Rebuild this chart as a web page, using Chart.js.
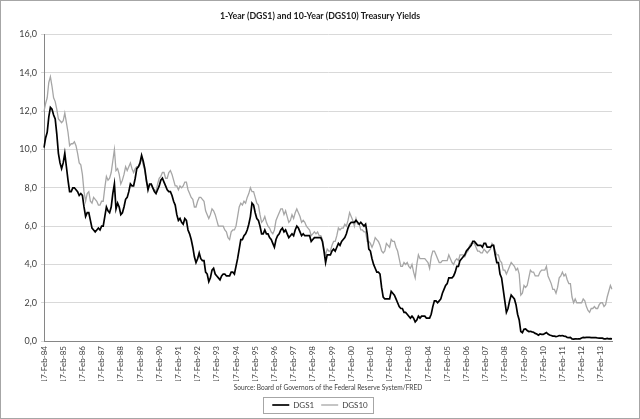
<!DOCTYPE html>
<html>
<head>
    <title>Treasury Yields</title>
    <script src="https://cdn.jsdelivr.net/npm/chart.js"></script>
    <style>
        body { margin: 0; background: #fff; }
        #wrap { width: 640px; height: 419px; }
    </style>
</head>
<body>
    <div id="wrap"><canvas id="chart"></canvas></div>
    <script>
        // monthly readings, 17-Feb-84 .. Sep-13
        const monthNames = ['Jan', 'Feb', 'Mar', 'Apr', 'May', 'Jun', 'Jul', 'Aug', 'Sep', 'Oct', 'Nov', 'Dec'];
        const startYear = 1984, startMonth = 1;   // Feb 1984
        const endYear = 2013, endMonth = 8;       // Sep 2013
        const tickMonth = 1;                      // year ticks sit on February
        const yTicks = [0, 2, 4, 6, 8, 10, 12, 14, 16];

        const dgs1 = [
            10.1, 10.6, 10.9, 11.7, 12.2, 12.1, 11.8, 11.6, 10.8, 9.8, 9.3,        // 1984
            9.0, 9.3, 9.8, 9.1, 8.4, 7.8, 7.8, 8.0, 8.0, 7.9, 7.8, 7.6,            // 1985
            7.7, 7.6, 7.0, 6.5, 6.7, 6.7, 6.3, 5.9, 5.8, 5.7, 5.8, 5.9,            // 1986
            5.8, 6.0, 6.0, 6.5, 7.0, 6.8, 6.7, 7.0, 7.7, 8.2, 6.9, 7.2,            // 1987
            7.0, 6.6, 6.7, 7.0, 7.4, 7.5, 7.8, 8.2, 8.1, 8.1, 8.5, 9.0,            // 1988
            9.1, 9.3, 9.7, 9.4, 9.0, 8.4, 7.9, 8.2, 8.2, 8.0, 7.8, 7.7,            // 1989
            7.9, 8.1, 8.4, 8.5, 8.3, 8.1, 7.9, 7.8, 7.8, 7.6, 7.3, 7.1,            // 1990
            6.6, 6.3, 6.4, 6.2, 6.1, 6.4, 6.3, 5.8, 5.6, 5.3, 4.9, 4.4,            // 1991
            4.1, 4.3, 4.6, 4.3, 4.2, 4.2, 3.6, 3.5, 3.1, 3.3, 3.7, 3.8,            // 1992
            3.5, 3.4, 3.3, 3.2, 3.4, 3.5, 3.5, 3.4, 3.4, 3.4, 3.6, 3.6,            // 1993
            3.5, 3.9, 4.3, 4.8, 5.3, 5.3, 5.5, 5.6, 5.8, 6.1, 6.5, 7.2,            // 1994
            7.1, 6.7, 6.4, 6.3, 6.0, 5.6, 5.6, 5.8, 5.6, 5.6, 5.4, 5.3,            // 1995
            5.1, 4.9, 5.3, 5.5, 5.6, 5.8, 5.9, 5.7, 5.8, 5.6, 5.4, 5.5,            // 1996
            5.6, 5.5, 5.8, 6.0, 5.9, 5.7, 5.5, 5.6, 5.5, 5.5, 5.5, 5.5,            // 1997
            5.2, 5.3, 5.4, 5.4, 5.4, 5.4, 5.4, 5.2, 4.7, 4.1, 4.5, 4.5,            // 1998
            4.5, 4.7, 4.8, 4.7, 4.9, 5.1, 5.0, 5.2, 5.3, 5.4, 5.6, 5.9,            // 1999
            6.1, 6.2, 6.2, 6.2, 6.3, 6.2, 6.1, 6.2, 6.1, 6.0, 6.1, 5.6,            // 2000
            4.8, 4.7, 4.3, 4.0, 3.8, 3.6, 3.6, 3.5, 2.8, 2.3, 2.2, 2.2,            // 2001
            2.2, 2.2, 2.6, 2.5, 2.4, 2.2, 2.0, 1.8, 1.7, 1.7, 1.5, 1.5,            // 2002
            1.4, 1.3, 1.2, 1.3, 1.2, 1.0, 1.1, 1.3, 1.2, 1.3, 1.3, 1.3,            // 2003
            1.2, 1.2, 1.2, 1.4, 1.8, 2.1, 2.1, 2.0, 2.1, 2.2, 2.5, 2.7,            // 2004
            2.9, 3.0, 3.3, 3.3, 3.3, 3.4, 3.6, 3.9, 3.9, 4.2, 4.3, 4.4,            // 2005
            4.5, 4.7, 4.8, 4.9, 5.0, 5.2, 5.2, 5.1, 5.0, 5.0, 5.0, 4.9,            // 2006
            5.1, 5.1, 4.9, 4.9, 4.9, 5.0, 5.0, 4.5, 4.1, 4.1, 3.5, 3.3,            // 2007
            2.7, 2.1, 1.5, 1.7, 2.1, 2.4, 2.3, 2.2, 1.9, 1.4, 1.1, 0.5,            // 2008
            0.44, 0.62, 0.64, 0.55, 0.50, 0.51, 0.48, 0.46, 0.40, 0.37, 0.31, 0.37, // 2009
            0.35, 0.35, 0.40, 0.45, 0.37, 0.32, 0.29, 0.26, 0.26, 0.23, 0.25, 0.29, // 2010
            0.27, 0.29, 0.26, 0.25, 0.19, 0.18, 0.19, 0.11, 0.10, 0.11, 0.11, 0.12, // 2011
            0.12, 0.16, 0.19, 0.18, 0.19, 0.19, 0.19, 0.18, 0.18, 0.18, 0.18, 0.16, // 2012
            0.15, 0.16, 0.15, 0.12, 0.12, 0.14, 0.12, 0.13, 0.12                    // 2013
        ];

        const dgs10 = [
            12.0, 12.4, 12.7, 13.5, 13.8, 13.3, 12.7, 12.5, 12.1, 11.6, 11.5,      // 1984
            11.4, 11.5, 11.9, 11.4, 10.9, 10.2, 10.3, 10.3, 10.4, 10.2, 9.8, 9.3,  // 1985
            9.2, 8.7, 7.8, 7.3, 7.7, 7.8, 7.3, 7.2, 7.5, 7.4, 7.3, 7.1,            // 1986
            7.1, 7.3, 7.3, 8.0, 8.6, 8.4, 8.5, 8.8, 9.4, 10.0, 8.9, 9.0,           // 1987
            8.7, 8.2, 8.4, 8.7, 9.1, 8.9, 9.1, 9.3, 9.0, 8.8, 9.0, 9.1,            // 1988
            9.1, 9.2, 9.6, 9.2, 8.9, 8.3, 8.0, 8.1, 8.2, 8.0, 7.9, 7.8,            // 1989
            8.2, 8.5, 8.6, 8.8, 8.8, 8.5, 8.5, 8.8, 8.9, 8.7, 8.4, 8.1,            // 1990
            8.1, 7.9, 8.1, 8.0, 8.1, 8.3, 8.3, 7.9, 7.7, 7.5, 7.4, 7.0,            // 1991
            7.0, 7.3, 7.5, 7.5, 7.4, 7.3, 6.8, 6.6, 6.4, 6.6, 6.9, 6.8,            // 1992
            6.6, 6.3, 6.0, 6.0, 6.0, 6.0, 5.8, 5.7, 5.4, 5.3, 5.7, 5.8,            // 1993
            5.8, 6.0, 6.5, 7.0, 7.2, 7.1, 7.3, 7.2, 7.5, 7.7, 8.0, 7.8,            // 1994
            7.8, 7.5, 7.2, 7.1, 6.6, 6.2, 6.3, 6.5, 6.2, 6.0, 5.9, 5.7,            // 1995
            5.6, 5.8, 6.3, 6.5, 6.7, 6.9, 6.9, 6.6, 6.8, 6.5, 6.2, 6.3,            // 1996
            6.6, 6.4, 6.7, 6.9, 6.7, 6.5, 6.2, 6.3, 6.2, 6.0, 5.9, 5.8,            // 1997
            5.5, 5.6, 5.7, 5.6, 5.7, 5.5, 5.5, 5.3, 4.8, 4.5, 4.8, 4.7,            // 1998
            4.7, 5.0, 5.2, 5.2, 5.5, 5.9, 5.8, 5.9, 5.9, 6.1, 6.0, 6.3,            // 1999
            6.7, 6.5, 6.3, 6.0, 6.4, 6.1, 6.1, 5.8, 5.8, 5.7, 5.7, 5.2,            // 2000
            5.2, 5.1, 4.9, 5.1, 5.4, 5.3, 5.2, 5.0, 4.7, 4.6, 4.7, 5.1,            // 2001
            5.0, 4.9, 5.3, 5.2, 5.2, 4.9, 4.7, 4.3, 3.9, 3.9, 4.1, 4.0,            // 2002
            4.1, 3.9, 3.8, 4.0, 3.6, 3.3, 4.0, 4.5, 4.3, 4.3, 4.3, 4.3,            // 2003
            4.2, 4.1, 3.8, 4.4, 4.7, 4.7, 4.5, 4.3, 4.1, 4.1, 4.2, 4.2,            // 2004
            4.2, 4.2, 4.5, 4.3, 4.1, 4.0, 4.2, 4.3, 4.2, 4.5, 4.5, 4.5,            // 2005
            4.4, 4.6, 4.7, 5.0, 5.1, 5.1, 5.1, 4.9, 4.7, 4.7, 4.6, 4.6,            // 2006
            4.8, 4.7, 4.6, 4.7, 4.8, 5.1, 5.0, 4.7, 4.5, 4.5, 4.2, 4.1,            // 2007
            3.7, 3.7, 3.5, 3.7, 3.9, 4.1, 4.0, 3.9, 3.7, 3.8, 3.5, 2.4,            // 2008
            2.5, 2.9, 2.8, 2.9, 3.3, 3.7, 3.6, 3.6, 3.4, 3.4, 3.4, 3.6,            // 2009
            3.7, 3.7, 3.7, 3.9, 3.4, 3.2, 3.0, 2.7, 2.7, 2.5, 2.8, 3.3,            // 2010
            3.4, 3.6, 3.4, 3.5, 3.2, 3.0, 3.0, 2.3, 2.0, 2.2, 2.0, 2.0,            // 2011
            2.0, 2.0, 2.2, 2.1, 1.8, 1.6, 1.5, 1.7, 1.7, 1.8, 1.7, 1.7,            // 2012
            1.9, 2.0, 2.0, 1.8, 1.9, 2.3, 2.6, 2.9, 2.7                            // 2013
        ];

        // category labels like 17-Feb-84
        const labels = [];
        for (let y = startYear; y <= endYear; y++) {
            const m0 = y === startYear ? startMonth : 0;
            const m1 = y === endYear ? endMonth : 11;
            for (let m = m0; m <= m1; m++) {
                labels.push('17-' + monthNames[m] + '-' + String(y).slice(2));
            }
        }

        const FONT = 'Lato, "Liberation Sans", sans-serif';

        // white page with the thin grey frame round the chart
        const frame = {
            id: 'frame',
            beforeDraw(chart) {
                const ctx = chart.ctx;
                ctx.save();
                ctx.fillStyle = '#ffffff';
                ctx.fillRect(0, 0, chart.width, chart.height);
                ctx.strokeStyle = '#a6a6a6';
                ctx.lineWidth = 1;
                ctx.strokeRect(0.5, 0.5, chart.width - 1, chart.height - 1);
                ctx.restore();
            }
        };

        // box round the legend entries
        const legendBox = {
            id: 'legendBox',
            afterDraw(chart) {
                const boxes = chart.legend.legendHitBoxes;
                if (!boxes || !boxes.length) return;
                const ctx = chart.ctx;
                const left = Math.min(...boxes.map(b => b.left)) - 9;
                const right = Math.max(...boxes.map(b => b.left + b.width)) + 6;
                const top = boxes[0].top - 4;
                const bottom = boxes[0].top + boxes[0].height + 4;
                ctx.save();
                ctx.strokeStyle = '#a6a6a6';
                ctx.lineWidth = 1;
                ctx.strokeRect(Math.round(left) + 0.5, Math.round(top) + 0.5, Math.round(right - left), Math.round(bottom - top));
                ctx.restore();
            }
        };

        function createChart() {
            const canvas = document.getElementById('chart');

            new Chart(canvas, {
                type: 'line',
                data: {
                    labels: labels,
                    datasets: [
                        {
                            label: 'DGS1',
                            data: dgs1,
                            borderColor: '#000000',
                            backgroundColor: '#000000',
                            borderWidth: 1.7,
                            pointRadius: 0,
                            tension: 0
                        },
                        {
                            label: 'DGS10',
                            data: dgs10,
                            borderColor: '#a6a6a6',
                            backgroundColor: '#a6a6a6',
                            borderWidth: 1.3,
                            pointRadius: 0,
                            tension: 0
                        }
                    ]
                },
                options: {
                    responsive: true,
                    maintainAspectRatio: false,
                    animation: false,
                    layout: { padding: 0 },
                    scales: {
                        x: {
                            type: 'category',
                            offset: false,
                            grid: { display: false, drawTicks: false },
                            border: { color: '#868686' },
                            ticks: {
                                autoSkip: false,
                                minRotation: 90,
                                maxRotation: 90,
                                padding: 5,
                                color: '#404040',
                                font: { family: FONT, size: 8 }
                            },
                            afterBuildTicks(scale) {
                                scale.ticks = scale.ticks.filter(t => (t.value + startMonth) % 12 === tickMonth);
                            },
                            afterFit(scale) { scale.height = 40; }
                        },
                        y: {
                            min: 0,
                            max: 16,
                            afterBuildTicks(scale) {
                                scale.ticks = yTicks.map(v => ({ value: v }));
                            },
                            ticks: {
                                padding: 4,
                                color: '#404040',
                                font: { family: FONT, size: 9 },
                                callback: v => v.toFixed(1).replace('.', ',')
                            },
                            grid: { color: '#d9d9d9', tickLength: 3 },
                            border: { color: '#868686' },
                            afterFit(scale) { scale.width = 44; }
                        },
                        // empty right margin so the page-wide title and legend stay centred
                        yMargin: {
                            position: 'right',
                            min: 0,
                            max: 16,
                            grid: { display: false, drawTicks: false },
                            border: { display: false },
                            ticks: { display: false },
                            afterFit(scale) { scale.width = 28; }
                        }
                    },
                    plugins: {
                        title: {
                            display: true,
                            text: '1-Year (DGS1) and 10-Year (DGS10) Treasury Yields',
                            color: '#1a1a1a',
                            font: { family: FONT, size: 8.8, weight: 'bold' },
                            padding: { top: 11, bottom: 13 }
                        },
                        subtitle: {
                            display: true,
                            position: 'bottom',
                            fullSize: false,
                            weight: 500,
                            text: 'Source: Board of Governors of the Federal Reserve System/FRED',
                            color: '#404040',
                            font: { family: FONT, size: 6.6 },
                            padding: { top: 3, bottom: 2 }
                        },
                        legend: {
                            position: 'bottom',
                            labels: {
                                usePointStyle: true,
                                pointStyle: 'line',
                                pointStyleWidth: 17,
                                padding: 7,
                                color: '#404040',
                                font: { family: FONT, size: 8 }
                            }
                        },
                        tooltip: { enabled: false }
                    }
                },
                plugins: [frame, legendBox]
            });
        }

        window.addEventListener('DOMContentLoaded', createChart);
    </script>
</body>
</html>
